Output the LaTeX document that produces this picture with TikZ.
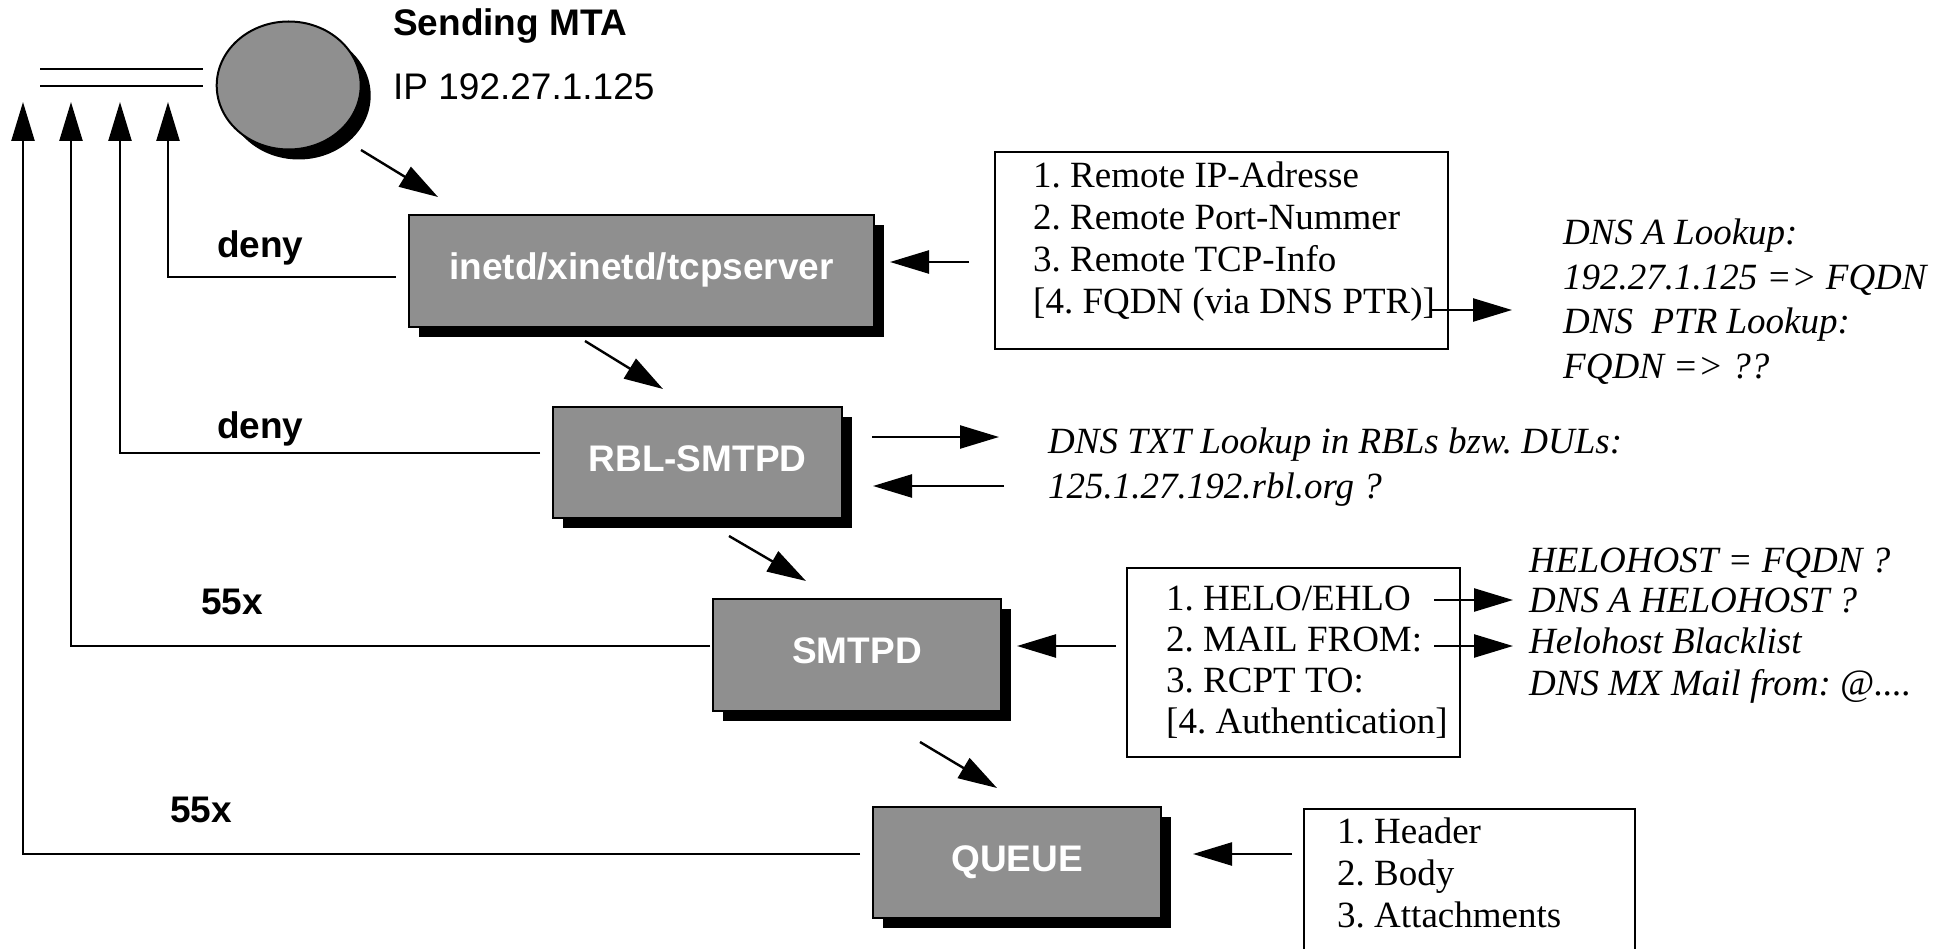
\documentclass[tikz,border=0pt]{standalone}
\usepackage{fontspec}
\setmainfont{Liberation Serif}
\setsansfont{Liberation Sans}
\usetikzlibrary{arrows.meta,shapes.geometric,shadows}
\definecolor{boxgray}{RGB}{143,143,143}
\frenchspacing
\begin{document}
\frenchspacing
\begin{tikzpicture}[x=1pt,y=-1pt,
  lw/.style={line width=2.4pt},
  arr/.style={lw,-{Triangle[length=39pt,width=23pt]}},
  shad/.style={drop shadow={shadow xshift=10pt,shadow yshift=-10pt,opacity=1,fill=black}},
  box/.style={draw,line width=2pt,fill=boxgray,inner sep=0pt,outer sep=0pt,text=white,
    font=\sffamily\bfseries\fontsize{37}{42}\selectfont,text height=26pt,text depth=9pt,shad},
  lst/.style={draw,line width=2pt,fill=white,inner sep=0pt,outer sep=0pt},
  sr/.style={font=\fontsize{37}{42}\selectfont,anchor=base west,inner sep=0pt},
  si/.style={font=\itshape\fontsize{37}{42}\selectfont,anchor=base west,inner sep=0pt},
  sb/.style={font=\sffamily\bfseries\fontsize{37}{42}\selectfont,anchor=base west,inner sep=0pt},
  ss/.style={font=\sffamily\fontsize{37}{42}\selectfont,anchor=base west,inner sep=0pt}]
\useasboundingbox (0,0) rectangle (1954,949);

% sending MTA
\node[ellipse,draw,line width=2pt,fill=boxgray,minimum width=144pt,minimum height=128pt,inner sep=0pt,shad] (mta) at (288.7,85.5) {};
\node[sb] (mtaname) at (393,36) {Sending MTA};
\node[ss] (mtaip) at (393,100) {IP 192.27.1.125};
\coordinate (dl1a) at (40,69); \coordinate (dl1b) at (203,69);
\coordinate (dl2a) at (40,86); \coordinate (dl2b) at (203,86);
\draw[lw] (dl1a) -- (dl1b);
\draw[lw] (dl2a) -- (dl2b);

% process boxes
\node[box,minimum width=465pt,minimum height=112pt] (inetd) at (641.5,271) {inetd/xinetd/tcpserver};
\node[box,minimum width=289pt,minimum height=111pt] (rbl) at (697.5,462.5) {RBL-SMTPD};
\node[box,minimum width=288pt,minimum height=112pt] (smtpd) at (857,655) {SMTPD};
\node[box,minimum width=288pt,minimum height=111pt] (queue) at (1017,862.5) {QUEUE};

% flow arrows
\coordinate (f0s) at (361,150); \coordinate (f0e) at (438,197);
\coordinate (f1s) at (585,341); \coordinate (f1e) at (663,389);
\coordinate (f2s) at (729,536); \coordinate (f2e) at (806,581);
\coordinate (f3s) at (920,742); \coordinate (f3e) at (997,788);
\draw[arr] (f0s) -- (f0e);
\draw[arr] (f1s) -- (f1e);
\draw[arr] (f2s) -- (f2e);
\draw[arr] (f3s) -- (f3e);

% return paths
\coordinate (r1s) at (396,277); \coordinate (r1c) at (168,277); \coordinate (r1e) at (168,102);
\coordinate (r2s) at (540,453); \coordinate (r2c) at (120,453); \coordinate (r2e) at (120,102);
\coordinate (r3s) at (710,646); \coordinate (r3c) at (71,646);  \coordinate (r3e) at (71,102);
\coordinate (r4s) at (860,854); \coordinate (r4c) at (23,854);  \coordinate (r4e) at (23,102);
\draw[arr] (r1s) -- (r1c) -- (r1e);
\draw[arr] (r2s) -- (r2c) -- (r2e);
\draw[arr] (r3s) -- (r3c) -- (r3e);
\draw[arr] (r4s) -- (r4c) -- (r4e);
\node[sb] (deny1) at (217,258) {deny};
\node[sb] (deny2) at (217,438) {deny};
\node[sb] (x55a) at (201,614) {55x};
\node[sb] (x55b) at (170,822) {55x};

% list 1
\node[lst,minimum width=453pt,minimum height=197pt] (l1) at (1221.5,250.5) {};
\node[sr] (l1a) at (1033,188) {1. Remote IP-Adresse};
\node[sr] (l1b) at (1033,230) {2. Remote Port-Nummer};
\node[sr] (l1c) at (1033,272) {3. Remote TCP-Info};
\node[sr] (l1d) at (1033,314) {[4. FQDN (via DNS PTR)]};
\coordinate (i1s) at (969,262); \coordinate (i1e) at (890,262);
\draw[arr] (i1s) -- (i1e);
\coordinate (o1s) at (1431,310); \coordinate (o1e) at (1512,310);
\draw[arr] (o1s) -- (o1e);
\node[si] (t1a) at (1563,245) {DNS A Lookup:};
\node[si] (t1b) at (1563,290) {192.27.1.125 => FQDN};
\node[si] (t1c) at (1563,334) {DNS\ \ PTR Lookup:};
\node[si] (t1d) at (1563,378) {FQDN => ??};

% RBL lookups
\coordinate (o2s) at (872,437); \coordinate (o2e) at (999,437);
\coordinate (i2s) at (1004,486); \coordinate (i2e) at (873,486);
\draw[arr] (o2s) -- (o2e);
\draw[arr] (i2s) -- (i2e);
\node[si] (t2a) at (1048,453) {DNS TXT Lookup in RBLs bzw. DULs:};
\node[si] (t2b) at (1048,498) {125.1.27.192.rbl.org ?};

% list 2
\node[lst,minimum width=333pt,minimum height=189pt] (l2) at (1293.5,662.5) {};
\node[sr] (l2a) at (1166,610) {1. HELO/EHLO};
\node[sr] (l2b) at (1166,651) {2. MAIL FROM:};
\node[sr] (l2c) at (1166,692) {3. RCPT TO:};
\node[sr] (l2d) at (1166,733) {[4. Authentication]};
\coordinate (i3s) at (1116,646); \coordinate (i3e) at (1017,646);
\draw[arr] (i3s) -- (i3e);
\coordinate (o3s) at (1434,600); \coordinate (o3e) at (1513,600);
\coordinate (o4s) at (1434,646); \coordinate (o4e) at (1513,646);
\draw[arr] (o3s) -- (o3e);
\draw[arr] (o4s) -- (o4e);
\node[si] (t3a) at (1529,572) {HELOHOST = FQDN ?};
\node[si] (t3b) at (1529,612) {DNS A HELOHOST ?};
\node[si] (t3c) at (1529,653) {Helohost Blacklist};
\node[si] (t3d) at (1529,695) {DNS MX Mail from: @....};

% list 3
\node[lst,minimum width=331pt,minimum height=146pt] (l3) at (1469.5,882) {};
\node[sr] (l3a) at (1337,843) {1. Header};
\node[sr] (l3b) at (1337,885) {2. Body};
\node[sr] (l3c) at (1337,927) {3. Attachments};
\coordinate (i4s) at (1292,854); \coordinate (i4e) at (1193,854);
\draw[arr] (i4s) -- (i4e);
\end{tikzpicture}
\end{document}
